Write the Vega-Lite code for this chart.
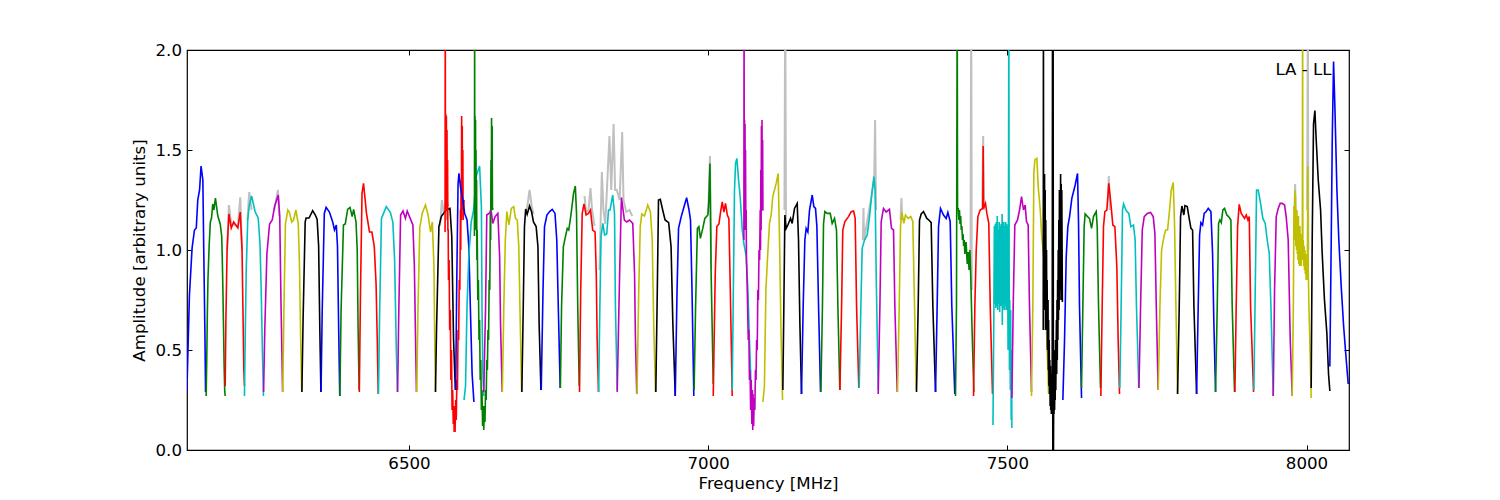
{"$schema":"https://vega.github.io/schema/vega-lite/v6.json","width":1162,"height":400,"autosize":{"type":"none"},"padding":{"left":187,"top":50,"right":151,"bottom":50},"background":"#ffffff","config":{"view":{"stroke":"#000000","strokeWidth":1.2},"font":"DejaVu Sans"},"resolve":{"axis":{"x":"independent","y":"independent"}},"layer":[
{"data":{"values":[
{"c":2,"f":6196,"a":1.0},{"c":2,"f":6199,"a":1.225},{"c":2,"f":6203,"a":1.13},{"c":2,"f":6214,"a":1.12},{"c":2,"f":6218,"a":1.263},{"c":2,"f":6221,"a":1.0},
{"c":3,"f":6230,"a":1.15},{"c":3,"f":6233,"a":1.29},{"c":3,"f":6237,"a":1.2},
{"c":4,"f":6275,"a":1.2},{"c":4,"f":6281,"a":1.3},{"c":4,"f":6283,"a":1.17},
{"c":13,"f":6552,"a":1.12},{"c":13,"f":6555,"a":1.25},{"c":13,"f":6558,"a":1.19},{"c":13,"f":6562,"a":1.25},{"c":13,"f":6566,"a":1.22},
{"c":20,"f":6697,"a":1.2},{"c":20,"f":6701.5,"a":1.3},{"c":20,"f":6705,"a":1.22},{"c":20,"f":6708,"a":1.18},
{"c":23,"f":6793.3,"a":1.27},{"c":23,"f":6796,"a":1.19},{"c":23,"f":6800,"a":1.2},{"c":23,"f":6803.3,"a":1.31},{"c":23,"f":6806,"a":1.2},{"c":23,"f":6810,"a":1.12},
{"c":24,"f":6818.4,"a":0.9},{"c":24,"f":6822.3,"a":1.39},{"c":24,"f":6825,"a":1.2},{"c":24,"f":6828,"a":1.13},{"c":24,"f":6830,"a":1.25},{"c":24,"f":6835,"a":1.57},{"c":24,"f":6838,"a":1.3},{"c":24,"f":6842,"a":1.63},{"c":24,"f":6844.5,"a":1.3},{"c":24,"f":6847.3,"a":1.3},{"c":24,"f":6852,"a":1.25},{"c":24,"f":6856.3,"a":1.59},{"c":24,"f":6858.5,"a":1.25},{"c":24,"f":6863,"a":1.19},{"c":24,"f":6868.5,"a":1.2},{"c":24,"f":6873,"a":1.17},
{"c":29,"f":7000,"a":1.18},{"c":29,"f":7003,"a":1.47},{"c":29,"f":7005,"a":0.9},
{"c":34,"f":7127.5,"a":1.2},{"c":34,"f":7128.8,"a":2.3},{"c":34,"f":7130,"a":1.15},
{"c":38,"f":7258.5,"a":1.05},{"c":38,"f":7259.6,"a":1.21},{"c":38,"f":7260.5,"a":1.05},{"c":38,"f":7277.5,"a":1.35},{"c":38,"f":7279,"a":1.65},{"c":38,"f":7280.5,"a":1.2},
{"c":40,"f":7321.5,"a":1.15},{"c":40,"f":7323,"a":1.26},{"c":40,"f":7324.5,"a":1.15},
{"c":43,"f":7438.5,"a":1.0},{"c":43,"f":7439.6,"a":2.3},{"c":43,"f":7440.6,"a":0.8},
{"c":44,"f":7458,"a":1.2},{"c":44,"f":7459.6,"a":1.57},{"c":44,"f":7461,"a":1.2},
{"c":51,"f":7668,"a":1.25},{"c":51,"f":7669.6,"a":1.37},{"c":51,"f":7671,"a":1.2},
{"c":61,"f":7980,"a":1.2},{"c":61,"f":7981,"a":1.33},{"c":61,"f":7982,"a":1.2},
{"c":62,"f":8001,"a":1.2},{"c":62,"f":8002.3,"a":2.3},{"c":62,"f":8003,"a":1.0}
]},"mark":{"type":"line","clip":true,"color":"#c0c0c0","strokeWidth":2},"encoding":{"detail":{"field":"c","type":"nominal"},"order":{"field":"f","type":"quantitative"},
"x":{"field":"f","type":"quantitative","scale":{"domain":[6129,8071],"nice":false,"zero":false},"axis":{"orient":"bottom","values":[6500,7000,7500,8000],"format":"d","title":"Frequency [MHz]","titleFontSize":16.67,"titleFontWeight":"normal","titleColor":"#000","titlePadding":3,"labelFontSize":16.67,"labelColor":"#000","labelPadding":10.5,"tickSize":-5,"tickColor":"#000","domain":false,"grid":false,"labelFlush":false}},
"y":{"field":"a","type":"quantitative","scale":{"domain":[0,2],"nice":false},"axis":{"orient":"left","values":[0,0.5,1,1.5,2],"format":".1f","title":"Amplitude [arbitrary units]","titleFontSize":16.67,"titleFontWeight":"normal","titleColor":"#000","titlePadding":6.5,"labelFontSize":16.67,"labelColor":"#000","labelPadding":10.5,"tickSize":-5,"tickColor":"#000","domain":false,"grid":false,"labelFlush":false}}}},
{"data":{"values":[
{"c":0,"f":6128.8,"a":0.29},{"c":0,"f":6133,"a":0.77},{"c":0,"f":6137.5,"a":1.01},{"c":0,"f":6141.5,"a":1.1},{"c":0,"f":6144.5,"a":1.11},{"c":0,"f":6147,"a":1.25},{"c":0,"f":6150,"a":1.3},{"c":0,"f":6152.5,"a":1.42},{"c":0,"f":6155.5,"a":1.35},{"c":0,"f":6157,"a":1.0},{"c":0,"f":6159,"a":0.57},{"c":0,"f":6160,"a":0.29},
{"c":1,"f":6161,"a":0.27},{"c":1,"f":6162,"a":0.45},{"c":1,"f":6163,"a":0.68},{"c":1,"f":6164,"a":0.85},{"c":1,"f":6166,"a":1.02},{"c":1,"f":6168,"a":1.14},{"c":1,"f":6170,"a":1.16},{"c":1,"f":6172,"a":1.23},{"c":1,"f":6174,"a":1.2},{"c":1,"f":6176.5,"a":1.26},{"c":1,"f":6180.5,"a":1.17},{"c":1,"f":6184.5,"a":1.13},{"c":1,"f":6187,"a":1.07},{"c":1,"f":6188,"a":0.95},{"c":1,"f":6189,"a":0.8},{"c":1,"f":6190,"a":0.62},{"c":1,"f":6191,"a":0.43},{"c":1,"f":6192,"a":0.3},{"c":1,"f":6192.8,"a":0.27},
{"c":2,"f":6192.8,"a":0.32},{"c":2,"f":6194,"a":0.65},{"c":2,"f":6196,"a":1.0},{"c":2,"f":6199,"a":1.18},{"c":2,"f":6203,"a":1.11},{"c":2,"f":6207,"a":1.14},{"c":2,"f":6214,"a":1.11},{"c":2,"f":6218,"a":1.19},{"c":2,"f":6221,"a":1.0},{"c":2,"f":6222.5,"a":0.7},{"c":2,"f":6224,"a":0.4},{"c":2,"f":6225,"a":0.32},
{"c":3,"f":6225,"a":0.27},{"c":3,"f":6226.5,"a":0.6},{"c":3,"f":6228,"a":0.9},{"c":3,"f":6230.5,"a":1.15},{"c":3,"f":6233,"a":1.22},{"c":3,"f":6237,"a":1.27},{"c":3,"f":6243,"a":1.19},{"c":3,"f":6248,"a":1.16},{"c":3,"f":6251,"a":1.03},{"c":3,"f":6253,"a":0.8},{"c":3,"f":6255,"a":0.5},{"c":3,"f":6256.8,"a":0.27},
{"c":4,"f":6257,"a":0.29},{"c":4,"f":6259,"a":0.6},{"c":4,"f":6262.5,"a":0.98},{"c":4,"f":6267,"a":1.13},{"c":4,"f":6271.5,"a":1.15},{"c":4,"f":6275.5,"a":1.22},{"c":4,"f":6281.5,"a":1.275},{"c":4,"f":6284,"a":1.17},{"c":4,"f":6286,"a":0.75},{"c":4,"f":6288.8,"a":0.29},
{"c":5,"f":6289,"a":0.29},{"c":5,"f":6291,"a":0.7},{"c":5,"f":6293.5,"a":1.13},{"c":5,"f":6297.5,"a":1.2},{"c":5,"f":6300,"a":1.19},{"c":5,"f":6304,"a":1.14},{"c":5,"f":6307,"a":1.15},{"c":5,"f":6311,"a":1.2},{"c":5,"f":6315,"a":1.13},{"c":5,"f":6317,"a":0.92},{"c":5,"f":6319,"a":0.55},{"c":5,"f":6320.8,"a":0.29},
{"c":6,"f":6321,"a":0.29},{"c":6,"f":6323,"a":0.65},{"c":6,"f":6326.5,"a":1.14},{"c":6,"f":6328,"a":1.16},{"c":6,"f":6333,"a":1.16},{"c":6,"f":6339,"a":1.197},{"c":6,"f":6343.5,"a":1.175},{"c":6,"f":6346.5,"a":1.153},{"c":6,"f":6349,"a":1.02},{"c":6,"f":6351,"a":0.6},{"c":6,"f":6352.8,"a":0.29},
{"c":7,"f":6353,"a":0.29},{"c":7,"f":6355,"a":0.7},{"c":7,"f":6358.5,"a":1.183},{"c":7,"f":6361.5,"a":1.213},{"c":7,"f":6367,"a":1.19},{"c":7,"f":6372.5,"a":1.14},{"c":7,"f":6375.5,"a":1.1},{"c":7,"f":6378.5,"a":1.125},{"c":7,"f":6380.5,"a":1.02},{"c":7,"f":6382.5,"a":0.6},{"c":7,"f":6384.3,"a":0.27},
{"c":8,"f":6384.5,"a":0.27},{"c":8,"f":6386.5,"a":0.7},{"c":8,"f":6390.5,"a":1.125},{"c":8,"f":6393.5,"a":1.13},{"c":8,"f":6397.5,"a":1.203},{"c":8,"f":6401.5,"a":1.213},{"c":8,"f":6405,"a":1.167},{"c":8,"f":6407.5,"a":1.203},{"c":8,"f":6411.5,"a":1.14},{"c":8,"f":6413.5,"a":1.0},{"c":8,"f":6415,"a":0.6},{"c":8,"f":6416.7,"a":0.3},
{"c":9,"f":6417,"a":0.29},{"c":9,"f":6419,"a":0.8},{"c":9,"f":6421.5,"a":1.283},{"c":9,"f":6424,"a":1.333},{"c":9,"f":6429,"a":1.183},{"c":9,"f":6434,"a":1.09},{"c":9,"f":6438,"a":1.09},{"c":9,"f":6442,"a":1.017},{"c":9,"f":6445,"a":0.83},{"c":9,"f":6447,"a":0.55},{"c":9,"f":6448.6,"a":0.28},
{"c":10,"f":6449,"a":0.28},{"c":10,"f":6451,"a":0.7},{"c":10,"f":6454,"a":1.158},{"c":10,"f":6462,"a":1.217},{"c":10,"f":6469,"a":1.187},{"c":10,"f":6473,"a":1.14},{"c":10,"f":6476,"a":0.95},{"c":10,"f":6478.5,"a":0.55},{"c":10,"f":6480.6,"a":0.29},
{"c":11,"f":6481,"a":0.29},{"c":11,"f":6483,"a":0.7},{"c":11,"f":6486,"a":1.175},{"c":11,"f":6490,"a":1.195},{"c":11,"f":6494,"a":1.158},{"c":11,"f":6497,"a":1.195},{"c":11,"f":6502,"a":1.158},{"c":11,"f":6506.5,"a":1.125},{"c":11,"f":6509,"a":0.92},{"c":11,"f":6511,"a":0.55},{"c":11,"f":6512.5,"a":0.29},
{"c":12,"f":6513,"a":0.29},{"c":12,"f":6515,"a":0.7},{"c":12,"f":6518,"a":1.108},{"c":12,"f":6522,"a":1.183},{"c":12,"f":6527.5,"a":1.225},{"c":12,"f":6532,"a":1.175},{"c":12,"f":6536,"a":1.09},{"c":12,"f":6539,"a":1.14},{"c":12,"f":6541.7,"a":0.92},{"c":12,"f":6543,"a":0.55},{"c":12,"f":6544.2,"a":0.29},
{"c":13,"f":6544.3,"a":0.29},{"c":13,"f":6546,"a":0.6},{"c":13,"f":6550,"a":1.117},{"c":13,"f":6554,"a":1.167},{"c":13,"f":6562,"a":1.2},{"c":13,"f":6568.5,"a":1.208},{"c":13,"f":6571.5,"a":1.067},{"c":13,"f":6574.5,"a":0.55},{"c":13,"f":6577.5,"a":0.3},
{"c":14,"f":6560.3,"a":1.09},{"c":14,"f":6560.6,"a":2.3},{"c":14,"f":6561,"a":1.3},{"c":14,"f":6561.5,"a":1.68},{"c":14,"f":6562,"a":1.25},{"c":14,"f":6562.5,"a":1.67},{"c":14,"f":6563,"a":1.2},{"c":14,"f":6563.5,"a":1.6},{"c":14,"f":6564,"a":1.15},{"c":14,"f":6564.5,"a":1.45},{"c":14,"f":6565,"a":1.1},{"c":14,"f":6565.5,"a":1.1},{"c":14,"f":6566,"a":0.85},{"c":14,"f":6567,"a":0.95},{"c":14,"f":6568,"a":0.6},{"c":14,"f":6569,"a":0.7},{"c":14,"f":6570,"a":0.35},{"c":14,"f":6571,"a":0.5},{"c":14,"f":6572,"a":0.2},{"c":14,"f":6573,"a":0.3},{"c":14,"f":6574,"a":0.13},{"c":14,"f":6575,"a":0.22},{"c":14,"f":6575.5,"a":0.09},{"c":14,"f":6576,"a":0.2},{"c":14,"f":6577,"a":0.09},{"c":14,"f":6578,"a":0.25},{"c":14,"f":6579,"a":0.15},{"c":14,"f":6580,"a":0.35},{"c":14,"f":6581,"a":0.3},{"c":14,"f":6582,"a":0.6},{"c":14,"f":6583,"a":0.55},{"c":14,"f":6584,"a":0.85},{"c":14,"f":6585,"a":0.8},{"c":14,"f":6586,"a":1.2},{"c":14,"f":6586.5,"a":1.0},{"c":14,"f":6587,"a":1.35},{"c":14,"f":6587.5,"a":1.15},{"c":14,"f":6588,"a":1.67},{"c":14,"f":6588.5,"a":1.25},{"c":14,"f":6589,"a":1.62},{"c":14,"f":6589.5,"a":1.2},{"c":14,"f":6590,"a":1.5},{"c":14,"f":6590.5,"a":1.15},{"c":14,"f":6592,"a":1.25},
{"c":15,"f":6578,"a":0.3},{"c":15,"f":6580,"a":0.88},{"c":15,"f":6582,"a":1.33},{"c":15,"f":6583.5,"a":1.383},{"c":15,"f":6586,"a":1.317},{"c":15,"f":6590,"a":1.25},{"c":15,"f":6593,"a":1.183},{"c":15,"f":6597,"a":1.15},{"c":15,"f":6600,"a":1.017},{"c":15,"f":6602.5,"a":0.72},{"c":15,"f":6605.5,"a":0.38},{"c":15,"f":6608.5,"a":0.24},
{"c":16,"f":6592,"a":0.25},{"c":16,"f":6594.5,"a":0.32},{"c":16,"f":6597,"a":0.72},{"c":16,"f":6600,"a":0.97},{"c":16,"f":6604,"a":1.14},{"c":16,"f":6608,"a":1.2},{"c":16,"f":6612.5,"a":1.37},{"c":16,"f":6618,"a":1.42},{"c":16,"f":6621,"a":1.217},{"c":16,"f":6622,"a":0.72},{"c":16,"f":6623.5,"a":0.38},{"c":16,"f":6625,"a":0.27},
{"c":17,"f":6609.4,"a":1.07},{"c":17,"f":6609.7,"a":2.3},{"c":17,"f":6610,"a":1.1},{"c":17,"f":6610.4,"a":1.67},{"c":17,"f":6610.8,"a":1.2},{"c":17,"f":6611.2,"a":1.65},{"c":17,"f":6611.6,"a":1.15},{"c":17,"f":6612,"a":1.5},{"c":17,"f":6612.5,"a":1.1},{"c":17,"f":6613,"a":1.35},{"c":17,"f":6613.5,"a":0.95},{"c":17,"f":6614,"a":1.1},{"c":17,"f":6615,"a":0.75},{"c":17,"f":6616,"a":0.85},{"c":17,"f":6617,"a":0.55},{"c":17,"f":6618,"a":0.65},{"c":17,"f":6619,"a":0.35},{"c":17,"f":6620,"a":0.45},{"c":17,"f":6621,"a":0.2},{"c":17,"f":6622,"a":0.3},{"c":17,"f":6623,"a":0.12},{"c":17,"f":6624,"a":0.22},{"c":17,"f":6625,"a":0.1},{"c":17,"f":6626,"a":0.22},{"c":17,"f":6627,"a":0.14},{"c":17,"f":6628,"a":0.3},{"c":17,"f":6629,"a":0.25},{"c":17,"f":6630,"a":0.45},{"c":17,"f":6631,"a":0.4},{"c":17,"f":6632,"a":0.6},{"c":17,"f":6633,"a":0.55},{"c":17,"f":6634,"a":0.85},{"c":17,"f":6635,"a":0.8},{"c":17,"f":6636,"a":1.2},{"c":17,"f":6636.5,"a":1.05},{"c":17,"f":6637,"a":1.45},{"c":17,"f":6637.5,"a":1.2},{"c":17,"f":6638,"a":1.66},{"c":17,"f":6638.5,"a":1.25},{"c":17,"f":6639,"a":1.62},{"c":17,"f":6639.5,"a":1.2},{"c":17,"f":6640.5,"a":1.21},
{"c":18,"f":6625,"a":0.29},{"c":18,"f":6628,"a":0.72},{"c":18,"f":6630,"a":1.175},{"c":18,"f":6633.5,"a":1.183},{"c":18,"f":6637.5,"a":1.192},{"c":18,"f":6640,"a":1.133},{"c":18,"f":6644,"a":1.167},{"c":18,"f":6648.5,"a":1.183},{"c":18,"f":6651.5,"a":0.967},{"c":18,"f":6653,"a":0.63},{"c":18,"f":6655.7,"a":0.29},
{"c":19,"f":6656,"a":0.29},{"c":19,"f":6658.5,"a":0.72},{"c":19,"f":6661,"a":1.05},{"c":19,"f":6663.5,"a":1.192},{"c":19,"f":6667,"a":1.125},{"c":19,"f":6671,"a":1.208},{"c":19,"f":6675,"a":1.217},{"c":19,"f":6678,"a":1.158},{"c":19,"f":6681,"a":1.15},{"c":19,"f":6683.5,"a":1.017},{"c":19,"f":6686,"a":0.63},{"c":19,"f":6688.3,"a":0.29},
{"c":20,"f":6688.6,"a":0.29},{"c":20,"f":6691,"a":0.72},{"c":20,"f":6693,"a":1.117},{"c":20,"f":6695,"a":1.205},{"c":20,"f":6697.5,"a":1.178},{"c":20,"f":6701.5,"a":1.22},{"c":20,"f":6705,"a":1.19},{"c":20,"f":6708,"a":1.14},{"c":20,"f":6712.5,"a":1.117},{"c":20,"f":6715.5,"a":1.017},{"c":20,"f":6717.5,"a":0.63},{"c":20,"f":6720.5,"a":0.3},
{"c":21,"f":6721,"a":0.3},{"c":21,"f":6724,"a":0.8},{"c":21,"f":6726.5,"a":1.117},{"c":21,"f":6730.5,"a":1.175},{"c":21,"f":6735,"a":1.192},{"c":21,"f":6739.5,"a":1.203},{"c":21,"f":6744,"a":1.183},{"c":21,"f":6747,"a":1.05},{"c":21,"f":6749.5,"a":0.72},{"c":21,"f":6752.7,"a":0.31},
{"c":22,"f":6753,"a":0.31},{"c":22,"f":6755,"a":0.72},{"c":22,"f":6758,"a":1.017},{"c":22,"f":6761.5,"a":1.067},{"c":22,"f":6764.5,"a":1.108},{"c":22,"f":6767,"a":1.1},{"c":22,"f":6771,"a":1.183},{"c":22,"f":6775,"a":1.283},{"c":22,"f":6778,"a":1.32},{"c":22,"f":6780,"a":1.183},{"c":22,"f":6782,"a":0.72},{"c":22,"f":6784.5,"a":0.32},
{"c":23,"f":6785,"a":0.29},{"c":23,"f":6787,"a":0.8},{"c":23,"f":6789.5,"a":1.183},{"c":23,"f":6792.5,"a":1.23},{"c":23,"f":6796,"a":1.175},{"c":23,"f":6800,"a":1.183},{"c":23,"f":6803.3,"a":1.2},{"c":23,"f":6807,"a":1.1},{"c":23,"f":6811,"a":1.09},{"c":23,"f":6813,"a":0.88},{"c":23,"f":6814.5,"a":0.55},{"c":23,"f":6816.7,"a":0.29},
{"c":24,"f":6817,"a":0.29},{"c":24,"f":6819,"a":0.72},{"c":24,"f":6821,"a":1.067},{"c":24,"f":6824,"a":1.133},{"c":24,"f":6827,"a":1.075},{"c":24,"f":6830.5,"a":1.08},{"c":24,"f":6833.5,"a":1.2},{"c":24,"f":6836,"a":1.2},{"c":24,"f":6840.5,"a":1.275},{"c":24,"f":6843.5,"a":1.18},{"c":24,"f":6845,"a":0.72},{"c":24,"f":6848,"a":0.3},
{"c":25,"f":6848,"a":0.29},{"c":25,"f":6852,"a":0.88},{"c":25,"f":6855,"a":1.263},{"c":25,"f":6860,"a":1.15},{"c":25,"f":6864,"a":1.14},{"c":25,"f":6868.5,"a":1.15},{"c":25,"f":6874,"a":1.133},{"c":25,"f":6877,"a":0.88},{"c":25,"f":6878.5,"a":0.55},{"c":25,"f":6880.7,"a":0.28},
{"c":26,"f":6881,"a":0.28},{"c":26,"f":6884,"a":0.8},{"c":26,"f":6886.5,"a":1.117},{"c":26,"f":6889,"a":1.18},{"c":26,"f":6893.5,"a":1.17},{"c":26,"f":6899,"a":1.225},{"c":26,"f":6903.5,"a":1.19},{"c":26,"f":6906.5,"a":1.05},{"c":26,"f":6909,"a":0.63},{"c":26,"f":6912,"a":0.29},
{"c":27,"f":6912.5,"a":0.29},{"c":27,"f":6915,"a":0.8},{"c":27,"f":6917,"a":1.25},{"c":27,"f":6920,"a":1.253},{"c":27,"f":6924,"a":1.2},{"c":27,"f":6928,"a":1.15},{"c":27,"f":6934,"a":1.137},{"c":27,"f":6938,"a":1.017},{"c":27,"f":6941,"a":0.63},{"c":27,"f":6945,"a":0.27},
{"c":28,"f":6945,"a":0.27},{"c":28,"f":6948,"a":0.8},{"c":28,"f":6950.5,"a":1.108},{"c":28,"f":6955,"a":1.167},{"c":28,"f":6960.5,"a":1.225},{"c":28,"f":6964,"a":1.262},{"c":28,"f":6968,"a":1.2},{"c":28,"f":6970.5,"a":1.15},{"c":28,"f":6973,"a":0.8},{"c":28,"f":6976,"a":0.27},
{"c":29,"f":6976.5,"a":0.3},{"c":29,"f":6979,"a":0.72},{"c":29,"f":6982,"a":1.108},{"c":29,"f":6984.5,"a":1.117},{"c":29,"f":6987,"a":1.058},{"c":29,"f":6991,"a":1.108},{"c":29,"f":6994.5,"a":1.158},{"c":29,"f":6999.5,"a":1.175},{"c":29,"f":7001,"a":1.24},{"c":29,"f":7003,"a":1.433},{"c":29,"f":7005,"a":0.88},{"c":29,"f":7008.5,"a":0.33},
{"c":30,"f":7008.5,"a":0.27},{"c":30,"f":7011.8,"a":0.88},{"c":30,"f":7014.5,"a":1.117},{"c":30,"f":7018,"a":1.13},{"c":30,"f":7020.7,"a":1.19},{"c":30,"f":7023.5,"a":1.24},{"c":30,"f":7026.3,"a":1.19},{"c":30,"f":7029,"a":1.233},{"c":30,"f":7032,"a":1.175},{"c":30,"f":7034.6,"a":1.158},{"c":30,"f":7037,"a":0.8},{"c":30,"f":7040.2,"a":0.27},
{"c":31,"f":7040.2,"a":0.3},{"c":31,"f":7042.4,"a":0.88},{"c":31,"f":7044,"a":1.3},{"c":31,"f":7045.8,"a":1.433},{"c":31,"f":7048,"a":1.458},{"c":31,"f":7050.8,"a":1.35},{"c":31,"f":7053.5,"a":1.267},{"c":31,"f":7057,"a":1.1},{"c":31,"f":7059.7,"a":1.033},{"c":31,"f":7063.6,"a":0.967},{"c":31,"f":7066.4,"a":0.8},{"c":31,"f":7069,"a":0.55},{"c":31,"f":7072,"a":0.3},
{"c":32,"f":7059.7,"a":1.05},{"c":32,"f":7060,"a":2.3},{"c":32,"f":7060.4,"a":1.1},{"c":32,"f":7060.8,"a":1.65},{"c":32,"f":7061.2,"a":1.25},{"c":32,"f":7061.6,"a":1.63},{"c":32,"f":7062,"a":1.2},{"c":32,"f":7062.4,"a":1.5},{"c":32,"f":7063,"a":1.1},{"c":32,"f":7063.5,"a":1.2},{"c":32,"f":7064,"a":0.95},{"c":32,"f":7065,"a":0.85},{"c":32,"f":7066,"a":0.7},{"c":32,"f":7067,"a":0.55},{"c":32,"f":7068,"a":0.6},{"c":32,"f":7069,"a":0.35},{"c":32,"f":7070,"a":0.4},{"c":32,"f":7071,"a":0.2},{"c":32,"f":7072,"a":0.35},{"c":32,"f":7073,"a":0.13},{"c":32,"f":7074,"a":0.3},{"c":32,"f":7074.5,"a":0.1},{"c":32,"f":7075,"a":0.28},{"c":32,"f":7076,"a":0.12},{"c":32,"f":7077,"a":0.26},{"c":32,"f":7078,"a":0.2},{"c":32,"f":7079,"a":0.4},{"c":32,"f":7080,"a":0.35},{"c":32,"f":7081,"a":0.55},{"c":32,"f":7082,"a":0.5},{"c":32,"f":7083,"a":0.8},{"c":32,"f":7084,"a":0.75},{"c":32,"f":7085,"a":1.0},{"c":32,"f":7086,"a":0.95},{"c":32,"f":7087,"a":1.2},{"c":32,"f":7087.5,"a":1.0},{"c":32,"f":7088,"a":1.4},{"c":32,"f":7088.5,"a":1.1},{"c":32,"f":7089,"a":1.62},{"c":32,"f":7089.5,"a":1.2},{"c":32,"f":7090,"a":1.65},{"c":32,"f":7090.5,"a":1.3},{"c":32,"f":7091,"a":1.55},{"c":32,"f":7091.5,"a":1.2},{"c":32,"f":7092.5,"a":1.2},
{"c":33,"f":7091.5,"a":0.24},{"c":33,"f":7094,"a":0.32},{"c":33,"f":7096.5,"a":0.8},{"c":33,"f":7099,"a":0.95},{"c":33,"f":7102.5,"a":1.133},{"c":33,"f":7105.3,"a":1.175},{"c":33,"f":7108,"a":1.267},{"c":33,"f":7113.7,"a":1.333},{"c":33,"f":7117,"a":1.383},{"c":33,"f":7119.3,"a":1.05},{"c":33,"f":7121.5,"a":0.63},{"c":33,"f":7124.3,"a":0.25},
{"c":34,"f":7124.8,"a":0.3},{"c":34,"f":7126.5,"a":0.72},{"c":34,"f":7128.2,"a":1.175},{"c":34,"f":7130.4,"a":1.108},{"c":34,"f":7133.2,"a":1.125},{"c":34,"f":7137.7,"a":1.158},{"c":34,"f":7140.4,"a":1.133},{"c":34,"f":7144.3,"a":1.208},{"c":34,"f":7148.8,"a":1.233},{"c":34,"f":7151,"a":1.05},{"c":34,"f":7153.3,"a":0.63},{"c":34,"f":7156,"a":0.28},
{"c":35,"f":7156,"a":0.28},{"c":35,"f":7158.8,"a":0.72},{"c":35,"f":7161.6,"a":1.05},{"c":35,"f":7163.8,"a":1.108},{"c":35,"f":7166.6,"a":1.09},{"c":35,"f":7169.4,"a":1.2},{"c":35,"f":7173.9,"a":1.275},{"c":35,"f":7176.6,"a":1.217},{"c":35,"f":7179.4,"a":1.208},{"c":35,"f":7181.7,"a":1.117},{"c":35,"f":7184.5,"a":0.72},{"c":35,"f":7187.8,"a":0.29},
{"c":36,"f":7188.4,"a":0.29},{"c":36,"f":7191,"a":0.72},{"c":36,"f":7192.8,"a":1.13},{"c":36,"f":7195,"a":1.192},{"c":36,"f":7199,"a":1.183},{"c":36,"f":7204,"a":1.183},{"c":36,"f":7207.3,"a":1.133},{"c":36,"f":7211.2,"a":1.158},{"c":36,"f":7214.5,"a":1.1},{"c":36,"f":7216.8,"a":0.72},{"c":36,"f":7220,"a":0.3},
{"c":37,"f":7220.2,"a":0.3},{"c":37,"f":7223,"a":0.72},{"c":37,"f":7225,"a":1.1},{"c":37,"f":7228.5,"a":1.142},{"c":37,"f":7234.6,"a":1.167},{"c":37,"f":7239,"a":1.192},{"c":37,"f":7243,"a":1.195},{"c":37,"f":7245.7,"a":1.158},{"c":37,"f":7248,"a":0.72},{"c":37,"f":7251.8,"a":0.31},
{"c":38,"f":7252.4,"a":0.31},{"c":38,"f":7255.2,"a":0.72},{"c":38,"f":7257.4,"a":1.008},{"c":38,"f":7261.3,"a":1.05},{"c":38,"f":7265.8,"a":1.075},{"c":38,"f":7269.7,"a":1.167},{"c":38,"f":7273.6,"a":1.283},{"c":38,"f":7277,"a":1.367},{"c":38,"f":7279,"a":1.3},{"c":38,"f":7280.8,"a":0.88},{"c":38,"f":7284.2,"a":0.3},
{"c":39,"f":7284.2,"a":0.28},{"c":39,"f":7287,"a":0.72},{"c":39,"f":7289.2,"a":1.142},{"c":39,"f":7293,"a":1.208},{"c":39,"f":7297.5,"a":1.19},{"c":39,"f":7303,"a":1.203},{"c":39,"f":7306.4,"a":1.108},{"c":39,"f":7309.8,"a":1.1},{"c":39,"f":7312,"a":0.72},{"c":39,"f":7316,"a":0.29},
{"c":40,"f":7316.5,"a":0.29},{"c":40,"f":7319.3,"a":0.72},{"c":40,"f":7321.5,"a":1.117},{"c":40,"f":7323.7,"a":1.188},{"c":40,"f":7327,"a":1.133},{"c":40,"f":7329.8,"a":1.175},{"c":40,"f":7334.3,"a":1.158},{"c":40,"f":7338.7,"a":1.167},{"c":40,"f":7342,"a":1.142},{"c":40,"f":7344.9,"a":0.72},{"c":40,"f":7347.7,"a":0.3},
{"c":41,"f":7348.2,"a":0.29},{"c":41,"f":7351,"a":0.72},{"c":41,"f":7353.2,"a":1.15},{"c":41,"f":7356,"a":1.18},{"c":41,"f":7359.9,"a":1.192},{"c":41,"f":7365.5,"a":1.158},{"c":41,"f":7368.8,"a":1.15},{"c":41,"f":7372.7,"a":1.137},{"c":41,"f":7375.5,"a":0.72},{"c":41,"f":7380,"a":0.29},
{"c":42,"f":7380,"a":0.29},{"c":42,"f":7382.7,"a":0.72},{"c":42,"f":7385,"a":1.117},{"c":42,"f":7388.3,"a":1.208},{"c":42,"f":7393.3,"a":1.175},{"c":42,"f":7397.8,"a":1.158},{"c":42,"f":7400.6,"a":1.188},{"c":42,"f":7404.5,"a":1.142},{"c":42,"f":7407.2,"a":0.72},{"c":42,"f":7412.2,"a":0.28},
{"c":43,"f":7413.4,"a":0.27},{"c":43,"f":7415,"a":0.72},{"c":43,"f":7416.2,"a":2.3},{"c":43,"f":7416.8,"a":1.2},{"c":43,"f":7418,"a":1.21},{"c":43,"f":7419,"a":1.15},{"c":43,"f":7420,"a":1.2},{"c":43,"f":7421,"a":1.13},{"c":43,"f":7422,"a":1.17},{"c":43,"f":7423,"a":1.1},{"c":43,"f":7424,"a":1.12},{"c":43,"f":7425,"a":1.05},{"c":43,"f":7426,"a":1.08},{"c":43,"f":7427,"a":1.02},{"c":43,"f":7428,"a":1.05},{"c":43,"f":7429,"a":0.98},{"c":43,"f":7431,"a":1.04},{"c":43,"f":7433,"a":0.93},{"c":43,"f":7434.5,"a":0.99},{"c":43,"f":7436,"a":0.9},{"c":43,"f":7437.5,"a":1.0},{"c":43,"f":7439,"a":0.85},{"c":43,"f":7440.8,"a":0.63},{"c":43,"f":7444,"a":0.29},
{"c":44,"f":7443.5,"a":0.27},{"c":44,"f":7445.7,"a":0.72},{"c":44,"f":7448,"a":1.0},{"c":44,"f":7450.8,"a":1.167},{"c":44,"f":7454.6,"a":1.2},{"c":44,"f":7459,"a":1.208},{"c":44,"f":7459.6,"a":1.52},{"c":44,"f":7460.2,"a":1.208},{"c":44,"f":7463.5,"a":1.233},{"c":44,"f":7465.8,"a":1.183},{"c":44,"f":7469,"a":1.133},{"c":44,"f":7471.4,"a":0.72},{"c":44,"f":7475.2,"a":0.28},
{"c":45,"f":7476,"a":0.125},{"c":45,"f":7477.5,"a":0.7},{"c":45,"f":7478.3,"a":1.12},{"c":45,"f":7479,"a":0.73},{"c":45,"f":7480,"a":1.13},{"c":45,"f":7480.8,"a":0.71},{"c":45,"f":7481.6,"a":1.14},{"c":45,"f":7482.4,"a":0.72},{"c":45,"f":7483.2,"a":1.17},{"c":45,"f":7484,"a":0.7},{"c":45,"f":7484.8,"a":1.1},{"c":45,"f":7485.6,"a":0.73},{"c":45,"f":7486.4,"a":1.14},{"c":45,"f":7487.2,"a":0.69},{"c":45,"f":7488,"a":1.12},{"c":45,"f":7488.8,"a":0.72},{"c":45,"f":7489.6,"a":1.13},{"c":45,"f":7490.4,"a":0.72},{"c":45,"f":7491.3,"a":1.18},{"c":45,"f":7491.6,"a":0.625},{"c":45,"f":7492.4,"a":1.1},{"c":45,"f":7493.2,"a":0.71},{"c":45,"f":7494,"a":1.14},{"c":45,"f":7494.8,"a":0.7},{"c":45,"f":7495.6,"a":1.12},{"c":45,"f":7496.4,"a":0.72},{"c":45,"f":7497.2,"a":1.14},{"c":45,"f":7498,"a":0.7},{"c":45,"f":7498.8,"a":1.13},{"c":45,"f":7499.6,"a":0.7},{"c":45,"f":7500.4,"a":1.12},{"c":45,"f":7501.2,"a":0.5},{"c":45,"f":7502,"a":1.3},{"c":45,"f":7502.5,"a":2.3},{"c":45,"f":7503,"a":0.9},{"c":45,"f":7503.5,"a":0.4},{"c":45,"f":7504,"a":0.75},{"c":45,"f":7505,"a":0.3},{"c":45,"f":7505.5,"a":0.7},{"c":45,"f":7506.5,"a":0.15},{"c":45,"f":7507,"a":0.5},{"c":45,"f":7507.6,"a":0.11},
{"c":46,"f":7507.6,"a":0.26},{"c":46,"f":7509.8,"a":0.72},{"c":46,"f":7512.5,"a":1.125},{"c":46,"f":7517,"a":1.15},{"c":46,"f":7520.4,"a":1.2},{"c":46,"f":7523.7,"a":1.267},{"c":46,"f":7527,"a":1.2},{"c":46,"f":7529.8,"a":1.225},{"c":46,"f":7532,"a":1.142},{"c":46,"f":7534.8,"a":1.125},{"c":46,"f":7537,"a":0.72},{"c":46,"f":7540.4,"a":0.29},
{"c":47,"f":7540.4,"a":0.27},{"c":47,"f":7542.6,"a":0.72},{"c":47,"f":7544.3,"a":1.383},{"c":47,"f":7546,"a":1.45},{"c":47,"f":7549.3,"a":1.458},{"c":47,"f":7551.6,"a":1.317},{"c":47,"f":7555,"a":1.2},{"c":47,"f":7557,"a":1.09},{"c":47,"f":7560.5,"a":0.97},{"c":47,"f":7563.8,"a":0.88},{"c":47,"f":7566,"a":0.55},{"c":47,"f":7569,"a":0.28},
{"c":48,"f":7560,"a":0.6},{"c":48,"f":7560.3,"a":2.3},{"c":48,"f":7560.7,"a":0.75},{"c":48,"f":7561.2,"a":1.38},{"c":48,"f":7561.7,"a":0.8},{"c":48,"f":7562.2,"a":1.38},{"c":48,"f":7562.7,"a":0.7},{"c":48,"f":7563.2,"a":1.3},{"c":48,"f":7563.7,"a":0.6},{"c":48,"f":7564.2,"a":1.15},{"c":48,"f":7565,"a":0.75},{"c":48,"f":7565.5,"a":1.0},{"c":48,"f":7566,"a":0.6},{"c":48,"f":7566.5,"a":0.85},{"c":48,"f":7567,"a":0.5},{"c":48,"f":7568,"a":0.75},{"c":48,"f":7568.5,"a":0.4},{"c":48,"f":7569,"a":0.65},{"c":48,"f":7569.5,"a":0.32},{"c":48,"f":7570,"a":0.55},{"c":48,"f":7570.5,"a":0.28},{"c":48,"f":7571,"a":0.45},{"c":48,"f":7571.5,"a":0.22},{"c":48,"f":7572,"a":0.42},{"c":48,"f":7572.5,"a":0.2},{"c":48,"f":7573,"a":0.38},{"c":48,"f":7573.5,"a":0.18},{"c":48,"f":7574,"a":0.35},{"c":48,"f":7574.5,"a":0.18},{"c":48,"f":7575,"a":0.42},{"c":48,"f":7575.5,"a":2.3},{"c":48,"f":7576,"a":-0.1},{"c":48,"f":7576.5,"a":2.3},{"c":48,"f":7577,"a":-0.1},{"c":48,"f":7577.5,"a":0.3},{"c":48,"f":7578,"a":0.18},{"c":48,"f":7578.5,"a":0.45},{"c":48,"f":7579,"a":0.2},{"c":48,"f":7579.5,"a":0.5},{"c":48,"f":7580,"a":0.25},{"c":48,"f":7580.5,"a":0.55},{"c":48,"f":7581,"a":0.3},{"c":48,"f":7582,"a":0.65},{"c":48,"f":7582.5,"a":0.38},{"c":48,"f":7583,"a":0.75},{"c":48,"f":7583.5,"a":0.45},{"c":48,"f":7584,"a":0.85},{"c":48,"f":7584.5,"a":0.55},{"c":48,"f":7585,"a":1.0},{"c":48,"f":7585.5,"a":0.65},{"c":48,"f":7586,"a":1.15},{"c":48,"f":7586.5,"a":0.7},{"c":48,"f":7587,"a":1.3},{"c":48,"f":7587.5,"a":0.75},{"c":48,"f":7588,"a":1.3},{"c":48,"f":7588.5,"a":0.8},{"c":48,"f":7589,"a":1.38},{"c":48,"f":7589.5,"a":0.8},{"c":48,"f":7590,"a":1.33},{"c":48,"f":7590.5,"a":0.75},{"c":48,"f":7591,"a":1.3},{"c":48,"f":7592,"a":0.74},
{"c":49,"f":7592.8,"a":0.25},{"c":49,"f":7595.6,"a":0.55},{"c":49,"f":7598.4,"a":0.967},{"c":49,"f":7601.1,"a":1.117},{"c":49,"f":7604,"a":1.167},{"c":49,"f":7607.8,"a":1.258},{"c":49,"f":7613.4,"a":1.325},{"c":49,"f":7617.3,"a":1.383},{"c":49,"f":7619,"a":1.133},{"c":49,"f":7620.6,"a":0.72},{"c":49,"f":7624,"a":0.26},
{"c":50,"f":7624,"a":0.31},{"c":50,"f":7626.2,"a":0.72},{"c":50,"f":7628.4,"a":1.117},{"c":50,"f":7630,"a":1.18},{"c":50,"f":7634,"a":1.167},{"c":50,"f":7637.3,"a":1.158},{"c":50,"f":7640.7,"a":1.108},{"c":50,"f":7644,"a":1.167},{"c":50,"f":7648.5,"a":1.192},{"c":50,"f":7650.2,"a":1.117},{"c":50,"f":7652.4,"a":0.72},{"c":50,"f":7655.7,"a":0.31},
{"c":51,"f":7656.3,"a":0.27},{"c":51,"f":7658.5,"a":0.72},{"c":51,"f":7660.7,"a":1.117},{"c":51,"f":7663,"a":1.192},{"c":51,"f":7666.3,"a":1.2},{"c":51,"f":7669.6,"a":1.333},{"c":51,"f":7673,"a":1.233},{"c":51,"f":7676.3,"a":1.125},{"c":51,"f":7679.7,"a":1.117},{"c":51,"f":7683,"a":0.917},{"c":51,"f":7685.2,"a":0.55},{"c":51,"f":7687.5,"a":0.28},
{"c":52,"f":7688,"a":0.31},{"c":52,"f":7690.2,"a":0.72},{"c":52,"f":7692.5,"a":1.2},{"c":52,"f":7694.2,"a":1.23},{"c":52,"f":7698.6,"a":1.197},{"c":52,"f":7703,"a":1.183},{"c":52,"f":7706.4,"a":1.117},{"c":52,"f":7710.8,"a":1.125},{"c":52,"f":7713.6,"a":1.05},{"c":52,"f":7715.8,"a":0.72},{"c":52,"f":7719.7,"a":0.31},
{"c":53,"f":7720,"a":0.31},{"c":53,"f":7722.7,"a":0.72},{"c":53,"f":7725.5,"a":1.1},{"c":53,"f":7728.8,"a":1.167},{"c":53,"f":7733.8,"a":1.183},{"c":53,"f":7739.4,"a":1.188},{"c":53,"f":7743.8,"a":1.167},{"c":53,"f":7746.6,"a":1.083},{"c":53,"f":7748.9,"a":0.72},{"c":53,"f":7752,"a":0.3},
{"c":54,"f":7752.2,"a":0.3},{"c":54,"f":7755,"a":0.72},{"c":54,"f":7757.8,"a":1.0},{"c":54,"f":7761.7,"a":1.067},{"c":54,"f":7764.5,"a":1.1},{"c":54,"f":7767.8,"a":1.1},{"c":54,"f":7771.1,"a":1.2},{"c":54,"f":7774,"a":1.3},{"c":54,"f":7777.3,"a":1.338},{"c":54,"f":7779.5,"a":1.117},{"c":54,"f":7781.7,"a":0.72},{"c":54,"f":7784.5,"a":0.28},
{"c":55,"f":7784.5,"a":0.28},{"c":55,"f":7787.3,"a":0.72},{"c":55,"f":7789.5,"a":1.167},{"c":55,"f":7791.7,"a":1.22},{"c":55,"f":7795,"a":1.175},{"c":55,"f":7796.8,"a":1.222},{"c":55,"f":7800.7,"a":1.217},{"c":55,"f":7803.4,"a":1.167},{"c":55,"f":7806.8,"a":1.108},{"c":55,"f":7809.6,"a":1.1},{"c":55,"f":7811.8,"a":0.72},{"c":55,"f":7816.3,"a":0.28},
{"c":56,"f":7816.3,"a":0.28},{"c":56,"f":7819,"a":0.72},{"c":56,"f":7821.3,"a":1.075},{"c":56,"f":7823.5,"a":1.137},{"c":56,"f":7826.3,"a":1.125},{"c":56,"f":7829,"a":1.183},{"c":56,"f":7832.4,"a":1.192},{"c":56,"f":7835.7,"a":1.208},{"c":56,"f":7840.2,"a":1.192},{"c":56,"f":7843,"a":0.983},{"c":56,"f":7845.2,"a":0.63},{"c":56,"f":7848,"a":0.29},
{"c":57,"f":7848,"a":0.29},{"c":57,"f":7850.8,"a":0.72},{"c":57,"f":7853,"a":1.133},{"c":57,"f":7855.2,"a":1.15},{"c":57,"f":7857.5,"a":1.137},{"c":57,"f":7860.2,"a":1.2},{"c":57,"f":7863,"a":1.208},{"c":57,"f":7866.9,"a":1.175},{"c":57,"f":7869.7,"a":1.167},{"c":57,"f":7873.6,"a":1.15},{"c":57,"f":7875.8,"a":0.72},{"c":57,"f":7879.7,"a":0.29},
{"c":58,"f":7880.3,"a":0.29},{"c":58,"f":7882.5,"a":0.72},{"c":58,"f":7884.8,"a":1.117},{"c":58,"f":7887.5,"a":1.228},{"c":58,"f":7890.9,"a":1.183},{"c":58,"f":7896.5,"a":1.158},{"c":58,"f":7899.3,"a":1.175},{"c":58,"f":7902,"a":1.15},{"c":58,"f":7904.3,"a":1.167},{"c":58,"f":7906.5,"a":0.72},{"c":58,"f":7911.5,"a":0.29},
{"c":59,"f":7912,"a":0.3},{"c":59,"f":7914.3,"a":0.8},{"c":59,"f":7916.5,"a":1.3},{"c":59,"f":7919.3,"a":1.3},{"c":59,"f":7923.2,"a":1.233},{"c":59,"f":7927,"a":1.158},{"c":59,"f":7931,"a":1.133},{"c":59,"f":7934.3,"a":1.05},{"c":59,"f":7937.7,"a":0.983},{"c":59,"f":7940.5,"a":0.72},{"c":59,"f":7944.4,"a":0.27},
{"c":60,"f":7944.4,"a":0.27},{"c":60,"f":7946.6,"a":0.8},{"c":60,"f":7949.4,"a":1.167},{"c":60,"f":7952.7,"a":1.208},{"c":60,"f":7956,"a":1.233},{"c":60,"f":7959.4,"a":1.233},{"c":60,"f":7963.3,"a":1.225},{"c":60,"f":7966,"a":1.167},{"c":60,"f":7969.4,"a":1.05},{"c":60,"f":7972.8,"a":0.55},{"c":60,"f":7976.1,"a":0.27},
{"c":61,"f":7976.1,"a":0.27},{"c":61,"f":7978,"a":0.72},{"c":61,"f":7979,"a":1.22},{"c":61,"f":7980,"a":1.1},{"c":61,"f":7980.5,"a":1.3},{"c":61,"f":7981,"a":1.05},{"c":61,"f":7981.5,"a":1.27},{"c":61,"f":7982,"a":1.02},{"c":61,"f":7982.7,"a":1.2},{"c":61,"f":7983.3,"a":1.0},{"c":61,"f":7984,"a":1.2},{"c":61,"f":7984.6,"a":0.98},{"c":61,"f":7985.2,"a":1.15},{"c":61,"f":7985.8,"a":0.95},{"c":61,"f":7986.5,"a":1.17},{"c":61,"f":7987,"a":0.93},{"c":61,"f":7987.7,"a":1.1},{"c":61,"f":7988.3,"a":0.92},{"c":61,"f":7989,"a":1.12},{"c":61,"f":7989.6,"a":0.93},{"c":61,"f":7990.3,"a":1.08},{"c":61,"f":7991,"a":0.92},{"c":61,"f":7991.7,"a":1.07},{"c":61,"f":7992.4,"a":0.95},{"c":61,"f":7993,"a":1.05},{"c":61,"f":7993.5,"a":2.3},{"c":61,"f":7993.9,"a":0.95},{"c":61,"f":7994.6,"a":1.05},{"c":61,"f":7995.3,"a":0.92},{"c":61,"f":7996,"a":1.02},{"c":61,"f":7996.7,"a":0.9},{"c":61,"f":7997.4,"a":1.0},{"c":61,"f":7998,"a":0.88},{"c":61,"f":7998.7,"a":0.98},{"c":61,"f":7999.4,"a":0.85},{"c":61,"f":8000.1,"a":0.96},{"c":61,"f":8000.8,"a":0.85},{"c":61,"f":8001.5,"a":0.95},{"c":61,"f":8002.2,"a":1.42},{"c":61,"f":8002.8,"a":0.92},{"c":61,"f":8004,"a":0.72},{"c":61,"f":8005.5,"a":0.55},{"c":61,"f":8007.8,"a":0.26},
{"c":62,"f":8007.8,"a":0.31},{"c":62,"f":8009.5,"a":1.05},{"c":62,"f":8011.7,"a":1.63},{"c":62,"f":8014,"a":1.697},{"c":62,"f":8016.2,"a":1.55},{"c":62,"f":8019.6,"a":1.35},{"c":62,"f":8023.5,"a":1.2},{"c":62,"f":8026.2,"a":0.983},{"c":62,"f":8030,"a":0.75},{"c":62,"f":8034,"a":0.583},{"c":62,"f":8036.8,"a":0.38},{"c":62,"f":8039,"a":0.295},
{"c":63,"f":8039,"a":0.417},{"c":63,"f":8041.3,"a":1.05},{"c":63,"f":8043,"a":1.55},{"c":63,"f":8045.2,"a":1.942},{"c":63,"f":8047.4,"a":1.717},{"c":63,"f":8050.8,"a":1.3},{"c":63,"f":8054,"a":1.05},{"c":63,"f":8058,"a":0.817},{"c":63,"f":8062,"a":0.62},{"c":63,"f":8066.4,"a":0.45},{"c":63,"f":8069.7,"a":0.33}
]},"mark":{"type":"line","clip":true,"strokeWidth":1.6},"encoding":{"detail":{"field":"c","type":"nominal"},"order":{"field":"f","type":"quantitative"},
"strokeWidth":{"condition":{"test":"indexof([14,17,32,43,45,48,61],datum.c)>=0","value":2.8},"value":1.6},
"color":{"field":"c","type":"nominal","legend":null,"scale":{"domain":[0,1,2,3,4,5,6,7,8,9,10,11,12,13,14,15,16,17,18,19,20,21,22,23,24,25,26,27,28,29,30,31,32,33,34,35,36,37,38,39,40,41,42,43,44,45,46,47,48,49,50,51,52,53,54,55,56,57,58,59,60,61,62,63],"range":["#0000ff","#008000","#ff0000","#00bfbf","#bf00bf","#bfbf00","#000000","#0000ff","#008000","#ff0000","#00bfbf","#bf00bf","#bfbf00","#000000","#ff0000","#0000ff","#00bfbf","#008000","#bf00bf","#bfbf00","#000000","#0000ff","#008000","#ff0000","#00bfbf","#bf00bf","#bfbf00","#000000","#0000ff","#008000","#ff0000","#00bfbf","#bf00bf","#bfbf00","#000000","#0000ff","#008000","#ff0000","#00bfbf","#bf00bf","#bfbf00","#000000","#0000ff","#008000","#ff0000","#00bfbf","#bf00bf","#bfbf00","#000000","#0000ff","#008000","#ff0000","#00bfbf","#bf00bf","#bfbf00","#000000","#0000ff","#008000","#ff0000","#00bfbf","#bf00bf","#bfbf00","#000000","#0000ff"]}},
"x":{"field":"f","type":"quantitative","scale":{"domain":[6129,8071],"nice":false,"zero":false},"axis":{"orient":"top","values":[6500,7000,7500,8000],"labels":false,"title":null,"tickSize":-5,"tickColor":"#000","domain":false,"grid":false}},
"y":{"field":"a","type":"quantitative","scale":{"domain":[0,2],"nice":false},"axis":{"orient":"right","values":[0,0.5,1,1.5,2],"labels":false,"title":null,"tickSize":-5,"tickColor":"#000","domain":false,"grid":false}}}},
{"data":{"values":[{"f":8042,"a":1.9,"t":"LA - LL"}]},"mark":{"type":"text","align":"right","baseline":"middle","fontSize":16.67,"font":"DejaVu Sans","color":"#000"},"encoding":{"text":{"field":"t","type":"nominal"},
"x":{"field":"f","type":"quantitative","scale":{"domain":[6129,8071],"nice":false,"zero":false},"axis":null},"y":{"field":"a","type":"quantitative","scale":{"domain":[0,2],"nice":false},"axis":null}}}
]}
